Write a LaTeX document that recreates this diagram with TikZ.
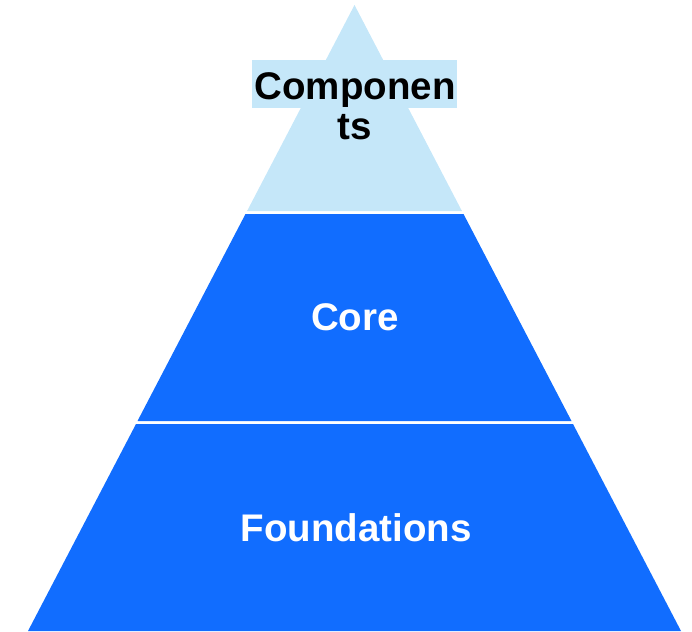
\documentclass[tikz,border=0pt]{standalone}
\usepackage{fontspec}
\setmainfont{Liberation Sans}
\definecolor{lightblue}{RGB}{197,231,249}
\definecolor{tierblue}{RGB}{17,109,255}
\begin{document}
\begin{tikzpicture}[x=1pt,y=-1pt,
  lab/.style={font=\fontsize{38.5}{40}\selectfont\bfseries, inner sep=0pt, anchor=base}]
\useasboundingbox (0,0) rectangle (692,631);
\fill[lightblue] (354.5,5) -- (247.1,211) -- (461.9,211) -- cycle;
\fill[tierblue] (245.5,214) -- (463.5,214) -- (571.5,421) -- (137.5,421) -- cycle;
\fill[tierblue] (136,424) -- (573,424) -- (681,631) -- (28,631) -- cycle;
\fill[lightblue] (252,60) rectangle (457,108);
\node[lab] (comp) at (355,100) {Componen};
\node[lab] (ts) at (355,140) {ts};
\node[lab, text=white] (core) at (355,330) {Core};
\node[lab, text=white] (found) at (356,541.7) {Foundations};
\end{tikzpicture}
\end{document}
